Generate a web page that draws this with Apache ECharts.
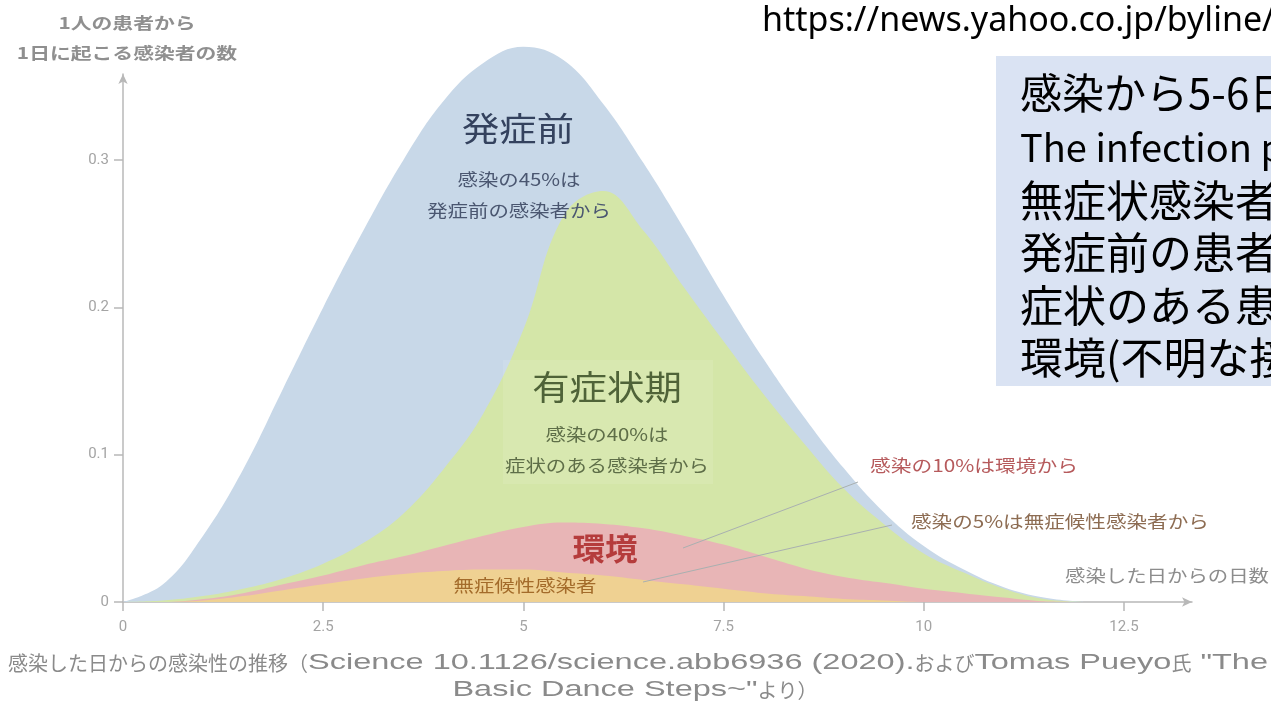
<!DOCTYPE html>
<html><head><meta charset="utf-8">
<script src="https://cdn.jsdelivr.net/npm/echarts@6/dist/echarts.min.js"></script>
<style>html,body{margin:0;padding:0;background:#fff;overflow:hidden}#c{width:1271px;height:706px}</style>
</head><body><div id="c"></div>
<script>
// Days since infection (x) and the top boundary of each coloured layer (y, stacked)
const days = [0,0.5,1,1.5,2,2.5,3,3.5,4,4.5,5,5.5,6,6.5,7,7.5,8,8.5,9,9.5,10,10.5,11,11.5,12];
const preSymptomaticTop = [0,0.012,0.045,0.09,0.145,0.2,0.252,0.3,0.34,0.366,0.377,0.368,0.338,0.298,0.254,0.208,0.165,0.126,0.091,0.061,0.038,0.022,0.01,0.003,0];
const symptomaticTop    = [0,0.001,0.004,0.009,0.016,0.026,0.04,0.06,0.09,0.128,0.185,0.262,0.279,0.252,0.214,0.177,0.141,0.108,0.077,0.053,0.033,0.02,0.009,0.002,0];
const environmentTop    = [0,0,0.002,0.006,0.012,0.018,0.025,0.031,0.038,0.045,0.051,0.054,0.053,0.05,0.045,0.039,0.031,0.023,0.017,0.013,0.009,0.006,0.003,0.0005,0];
const asymptomaticTop   = [0,0,0.001,0.004,0.008,0.012,0.016,0.019,0.021,0.022,0.022,0.02,0.018,0.015,0.012,0.009,0.006,0.004,0.002,0.001,0,0,0,0,0];
const xTicks = [0,2.5,5,7.5,10,12.5];
const yTicks = [0,0.1,0.2,0.3];
const seriesNames = ['発症前','有症状期','環境','無症候性感染者'];
const boxTitle = '感染から5-6日';
const boxLines = ['The infection p','無症状感染者','発症前の患者','症状のある患','環境(不明な接'];
const captionLine1 = [['感染した日からの感染性の推移（','j'],['Science 10.1126/science.abb6936 (2020).','l'],['および','j'],['Tomas Pueyo','l'],['氏','j'],[' "The','l']];
const captionLine2 = [['Basic Dance Steps~"','l'],['より）','j']];

const chart = echarts.init(document.getElementById('c'));
const pairs = arr => days.map((d,i)=>[d,arr[i]]);
const colors = ['#c8d8e8','#d4e6a8','#e8b5b6','#efd192'];
const layers = [preSymptomaticTop, symptomaticTop, environmentTop, asymptomaticTop];
const JP = "'Noto Sans CJK JP'";
const LAT = "'Liberation Sans'";
const axisCol = '#b8b8b8';
const labCol = '#a4a4a4';

function txt(text, x, y, size, color, opts) {
  opts = opts || {};
  return {
    type: 'text', x: x, y: y, z: 100, scaleX: opts.sx || 1,
    style: {
      text: text, fill: color, fontSize: size,
      fontFamily: opts.family || JP, fontWeight: opts.weight || 'normal',
      align: opts.align || 'center', verticalAlign: 'middle',
      textAlign: opts.align || 'center', textVerticalAlign: 'middle'
    }
  };
}

// caption layout (measured)
const mctx = document.createElement('canvas').getContext('2d');
const CJK_SIZE = 20, LAT_SIZE = 22;
function segW(seg) {
  mctx.font = (seg[1] === 'j' ? CJK_SIZE : LAT_SIZE) + 'px ' + (seg[1] === 'j' ? JP : LAT);
  return mctx.measureText(seg[0]).width;
}
const l1j = captionLine1.filter(s=>s[1]==='j').reduce((a,s)=>a+segW(s),0);
const l1l = captionLine1.filter(s=>s[1]==='l').reduce((a,s)=>a+segW(s),0);
const capLeft = 8, capRight = 1268;
const latScale = (capRight - capLeft - l1j) / l1l;
function captionEls(segs, startX, y) {
  let cx = startX; const els = [];
  segs.forEach(s => {
    const isJ = s[1] === 'j';
    els.push(txt(s[0], cx, y, isJ ? CJK_SIZE : LAT_SIZE, '#8a8a8a',
      { align: 'left', family: isJ ? JP : LAT, sx: isJ ? 1 : latScale }));
    cx += segW(s) * (isJ ? 1 : latScale);
  });
  return els;
}
const l2w = captionLine2.reduce((a,s)=>a+segW(s)*(s[1]==='j'?1:latScale),0);

const option = {
  animation: false,
  backgroundColor: '#fff',
  grid: { left: 123, right: 79, top: 74, bottom: 104, containLabel: false },
  xAxis: {
    type: 'value', min: 0, max: 13.35,
    axisLine: { show: true, lineStyle: { color: axisCol, width: 1.5 }, symbol: ['none','arrow'], symbolSize: [7,10] },
    axisTick: { show: true, length: 9, lineStyle: { color: axisCol, width: 1.5 }, customValues: xTicks },
    axisLabel: { customValues: xTicks, color: labCol, fontSize: 15, fontFamily: 'Roboto', margin: 18,
      formatter: v => String(v) },
    splitLine: { show: false }
  },
  yAxis: {
    type: 'value', min: 0, max: 0.3585,
    axisLine: { show: true, lineStyle: { color: axisCol, width: 1.5 }, symbol: ['none','arrow'], symbolSize: [7,10] },
    axisTick: { show: true, length: 9, lineStyle: { color: axisCol, width: 1.5 }, customValues: yTicks },
    axisLabel: { customValues: yTicks, color: labCol, fontSize: 15, fontFamily: 'Roboto', margin: 14,
      formatter: v => String(v) },
    splitLine: { show: false }
  },
  series: layers.map((arr, i) => ({
    name: seriesNames[i], type: 'line', data: pairs(arr), smooth: 0.4,
    symbol: 'none', clip: false, z: 2 + i,
    lineStyle: { width: 0 },
    areaStyle: { color: colors[i], opacity: 1 }
  })),
  graphic: [
    // y-axis title
    txt('1人の患者から', 127, 23, 16, '#8f8f8f', { weight: 'bold', sx: 1.3 }),
    txt('1日に起こる感染者の数', 127, 53, 16, '#8f8f8f', { weight: 'bold', sx: 1.3 }),
    // URL
    txt('https://news.yahoo.co.jp/byline/', 762, 21, 34, '#000', { align: 'left', family: "'Noto Sans'" }),
    // note box
    { type: 'rect', shape: { x: 996, y: 56, width: 300, height: 330 }, style: { fill: '#dae3f3' }, z: 90 },
    txt(boxTitle, 1020, 93, 42, '#000', { align: 'left' }),
    ...boxLines.map((t, i) => txt(t, 1020, 148 + i * 52.5, i === 0 ? 38 : 43, '#000', { align: 'left' })),
    // area labels
    txt('発症前', 518, 128, 33, '#34425e', { sx: 1.13 }),
    txt('感染の45%は', 519, 180, 17, '#4a5670', { sx: 1.2 }),
    txt('発症前の感染者から', 519, 211, 17, '#4a5670', { sx: 1.2 }),
    { type: 'rect', shape: { x: 503, y: 360, width: 210, height: 124 }, style: { fill: 'rgba(255,255,255,0.10)' }, z: 50 },
    txt('有症状期', 607, 387, 34, '#4f6338', { sx: 1.1 }),
    txt('感染の40%は', 607, 435, 17, '#5e6e48', { sx: 1.2 }),
    txt('症状のある感染者から', 607, 466, 17, '#5e6e48', { sx: 1.2 }),
    txt('環境', 605, 548, 31, '#b53c3c', { weight: 'bold', sx: 1.05 }),
    txt('無症候性感染者', 525, 586, 17, '#a36b2a', { sx: 1.2 }),
    // leader lines
    { type: 'line', shape: { x1: 683, y1: 548, x2: 858, y2: 482 }, style: { stroke: '#a9b0b0', lineWidth: 1 }, z: 60 },
    { type: 'line', shape: { x1: 643, y1: 582, x2: 892, y2: 525 }, style: { stroke: '#a9b0b0', lineWidth: 1 }, z: 60 },
    txt('感染の10%は環境から', 870, 466, 17, '#b65a5c', { align: 'left', sx: 1.22 }),
    txt('感染の5%は無症候性感染者から', 911, 522, 17, '#8d6c52', { align: 'left', sx: 1.21 }),
    txt('感染した日からの日数', 1065, 576, 17, '#8c8c8c', { align: 'left', sx: 1.2 }),
    // caption
    ...captionEls(captionLine1, capLeft, 663),
    ...captionEls(captionLine2, 635 - l2w / 2, 690)
  ]
};
chart.setOption(option);
</script>
</body></html>
